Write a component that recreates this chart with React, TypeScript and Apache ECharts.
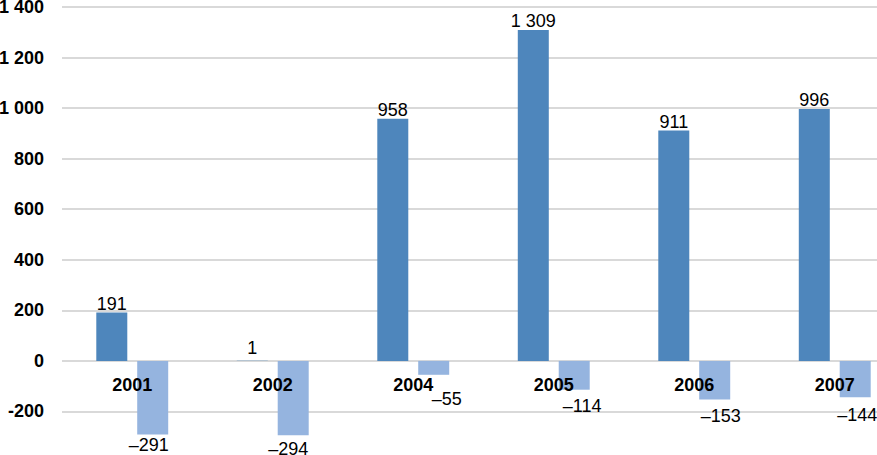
import React, { useEffect, useRef } from "react";
import * as echarts from "echarts";

const years = ["2001", "2002", "2004", "2005", "2006", "2007"];
const seriesA = [191, 1, 958, 1309, 911, 996];
const seriesB = [-291, -294, -55, -114, -153, -144];
const yTicks = { min: -400, max: 1400, interval: 200 };

// label nudges (styling, not data)
const negLabelDx = [-4, -5, 13, 8, 6, 2];
const negLabelDy = [0, 3, 13, 5, 5, 7];
const posLabelDy = [0, -4, 0, 0, 0, 0];

const FONT = "'Liberation Sans', Arial, sans-serif";

const CHART_H = 470;
const GRID_TOP = 7;
const GRID_BOTTOM = 8;
const gridH = CHART_H - GRID_TOP - GRID_BOTTOM;
const zeroOffset = -(gridH * (0 - yTicks.min)) / (yTicks.max - yTicks.min);

function fmtNum(v: number, dash: string): string {
  const abs = Math.abs(v);
  const s = String(abs).replace(/\B(?=(\d{3})+(?!\d))/g, " ");
  return (v < 0 ? dash : "") + s;
}

export default function App() {
  const ref = useRef<HTMLDivElement>(null);
  useEffect(() => {
    if (!ref.current) return;
    const chart = echarts.init(ref.current, undefined, { renderer: "svg" });
    chart.setOption({
      animation: false,
      backgroundColor: "#ffffff",
      grid: {
        left: 62,
        right: 0,
        top: GRID_TOP,
        bottom: GRID_BOTTOM,
        containLabel: false,
        outerBoundsMode: "none",
      },
      xAxis: {
        type: "category",
        data: years,
        position: "bottom",
        offset: zeroOffset,
        axisLine: { show: false, onZero: false },
        axisTick: { show: false },
        axisLabel: {
          color: "#000",
          fontWeight: "bold",
          fontSize: 18,
          fontFamily: FONT,
          margin: 15,
        },
        z: 10,
      },
      yAxis: {
        type: "value",
        min: yTicks.min,
        max: yTicks.max,
        interval: yTicks.interval,
        axisLine: { show: false },
        axisTick: { show: false },
        splitLine: { show: true, lineStyle: { color: "#D9D9D9", width: 2 } },
        axisLabel: {
          color: "#000",
          fontWeight: "bold",
          fontSize: 18,
          fontFamily: FONT,
          margin: 18,
          showMinLabel: false,
          formatter: (v: number) => fmtNum(v, "-"),
        },
      },
      series: [
        {
          type: "bar",
          data: seriesA.map((v, i) => ({
            value: v,
            label: { offset: [0, posLabelDy[i]] },
          })),
          barWidth: 31,
          barGap: "32%",
          itemStyle: { color: "#4E86BC" },
          z: 3,
          label: {
            show: true,
            position: "top",
            distance: 0,
            color: "#000",
            fontSize: 18,
            fontFamily: FONT,
            formatter: (p: any) => fmtNum(p.value, "\u2013"),
          },
        },
        {
          type: "bar",
          data: seriesB.map((v, i) => ({
            value: v,
            label: { offset: [negLabelDx[i], negLabelDy[i]] },
          })),
          barWidth: 31,
          barGap: "32%",
          itemStyle: { color: "#95B4DF" },
          z: 3,
          label: {
            show: true,
            position: "bottom",
            distance: 2,
            color: "#000",
            fontSize: 18,
            fontFamily: FONT,
            formatter: (p: any) => fmtNum(p.value, "\u2013"),
          },
        },
      ],
    });
    return () => chart.dispose();
  }, []);
  return (
    <div
      style={{
        position: "fixed",
        left: 0,
        top: 0,
        width: 877,
        height: 455,
        overflow: "hidden",
        background: "#fff",
      }}
    >
      <div ref={ref} style={{ width: 905, height: CHART_H }} />
    </div>
  );
}
